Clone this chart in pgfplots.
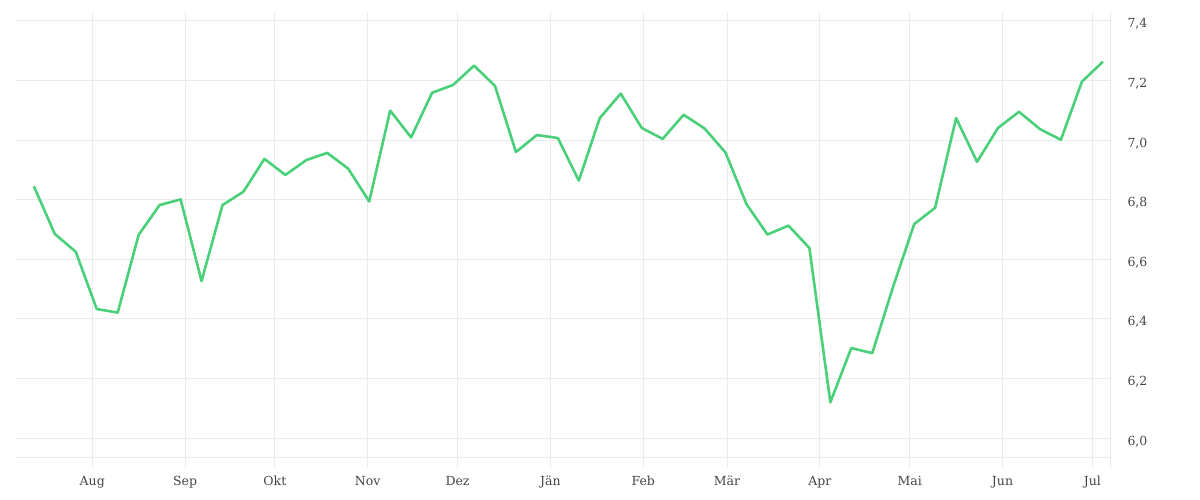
\documentclass[border=0pt]{standalone}
\usepackage{pgfplots}
\pgfplotsset{compat=1.18}
\usetikzlibrary{calc}
\usepackage{fontspec}
\setmainfont{DejaVu Serif}
\definecolor{gridgray}{HTML}{EBEBEB}
\definecolor{linegreen}{HTML}{4BD07A}
\definecolor{labelgray}{HTML}{444444}

\begin{document}
\begin{tikzpicture}[x=1bp,y=1bp]
\begin{axis}[
    name=ax,
    at={(0,0)}, anchor=south west,
    scale only axis,
    width=1095bp, height=446bp,
    xmin=5.2, xmax=370.9,
    ymin=5.933, ymax=7.43,
    axis x line*=bottom,
    axis y line*=right,
    axis line style={draw=gridgray, line width=1bp},
    xtick={31,62,92,123,153,184,215,243,274,304,335,365},
    xticklabels={Aug,Sep,Okt,Nov,Dez,Jän,Feb,Mär,Apr,Mai,Jun,Jul},
    extra x ticks={370.9},
    extra x tick labels={},
    ytick={6.0,6.2,6.4,6.6,6.8,7.0,7.2,7.4},
    yticklabel pos=right,
    /pgf/number format/.cd, use comma, fixed, fixed zerofill, precision=1, assume math mode=true,
    /pgfplots/.cd,
    xmajorgrids, ymajorgrids,
    grid style={draw=gridgray, line width=1bp},
    x tick style={draw=gridgray, line width=1bp},
    xtick align=outside,
    major tick length=10bp,
    y tick style={draw=none},
    tick label style={font=\fontsize{12.5bp}{14bp}\selectfont, text=labelgray},
    xticklabel style={anchor=base, yshift=-18bp},
    yticklabel style={anchor=base west, xshift=14bp, yshift=-7bp},
    clip=false,
]
\addplot[color=linegreen, line width=2.6bp, line join=round] coordinates {
(11.5,6.845)(18.5,6.685)(25.5,6.625)(32.5,6.433)(39.5,6.421)(46.5,6.682)
(53.5,6.782)(60.5,6.801)(67.5,6.527)(74.5,6.782)(81.5,6.827)(88.5,6.937)
(95.5,6.883)(102.5,6.933)(109.5,6.957)(116.5,6.904)(123.5,6.794)(130.5,7.099)
(137.5,7.009)(144.5,7.159)(151.5,7.185)(158.5,7.250)(165.5,7.182)(172.5,6.960)
(179.5,7.017)(186.5,7.007)(193.5,6.864)(200.5,7.074)(207.5,7.156)(214.5,7.041)
(221.5,7.004)(228.5,7.085)(235.5,7.039)(242.5,6.958)(249.5,6.785)(256.5,6.683)
(263.5,6.713)(270.5,6.638)(277.5,6.120)(284.5,6.302)(291.5,6.285)(298.5,6.509)
(305.5,6.718)(312.5,6.773)(319.5,7.074)(326.5,6.927)(333.5,7.041)(340.5,7.095)
(347.5,7.037)(354.5,7.001)(361.5,7.196)(368.5,7.263)
};
\end{axis}
\pgfresetboundingbox
\path[use as bounding box] ($(ax.south west)+(-15bp,-42bp)$) rectangle ($(ax.north east)+(90bp,12bp)$);
\end{tikzpicture}
\end{document}
